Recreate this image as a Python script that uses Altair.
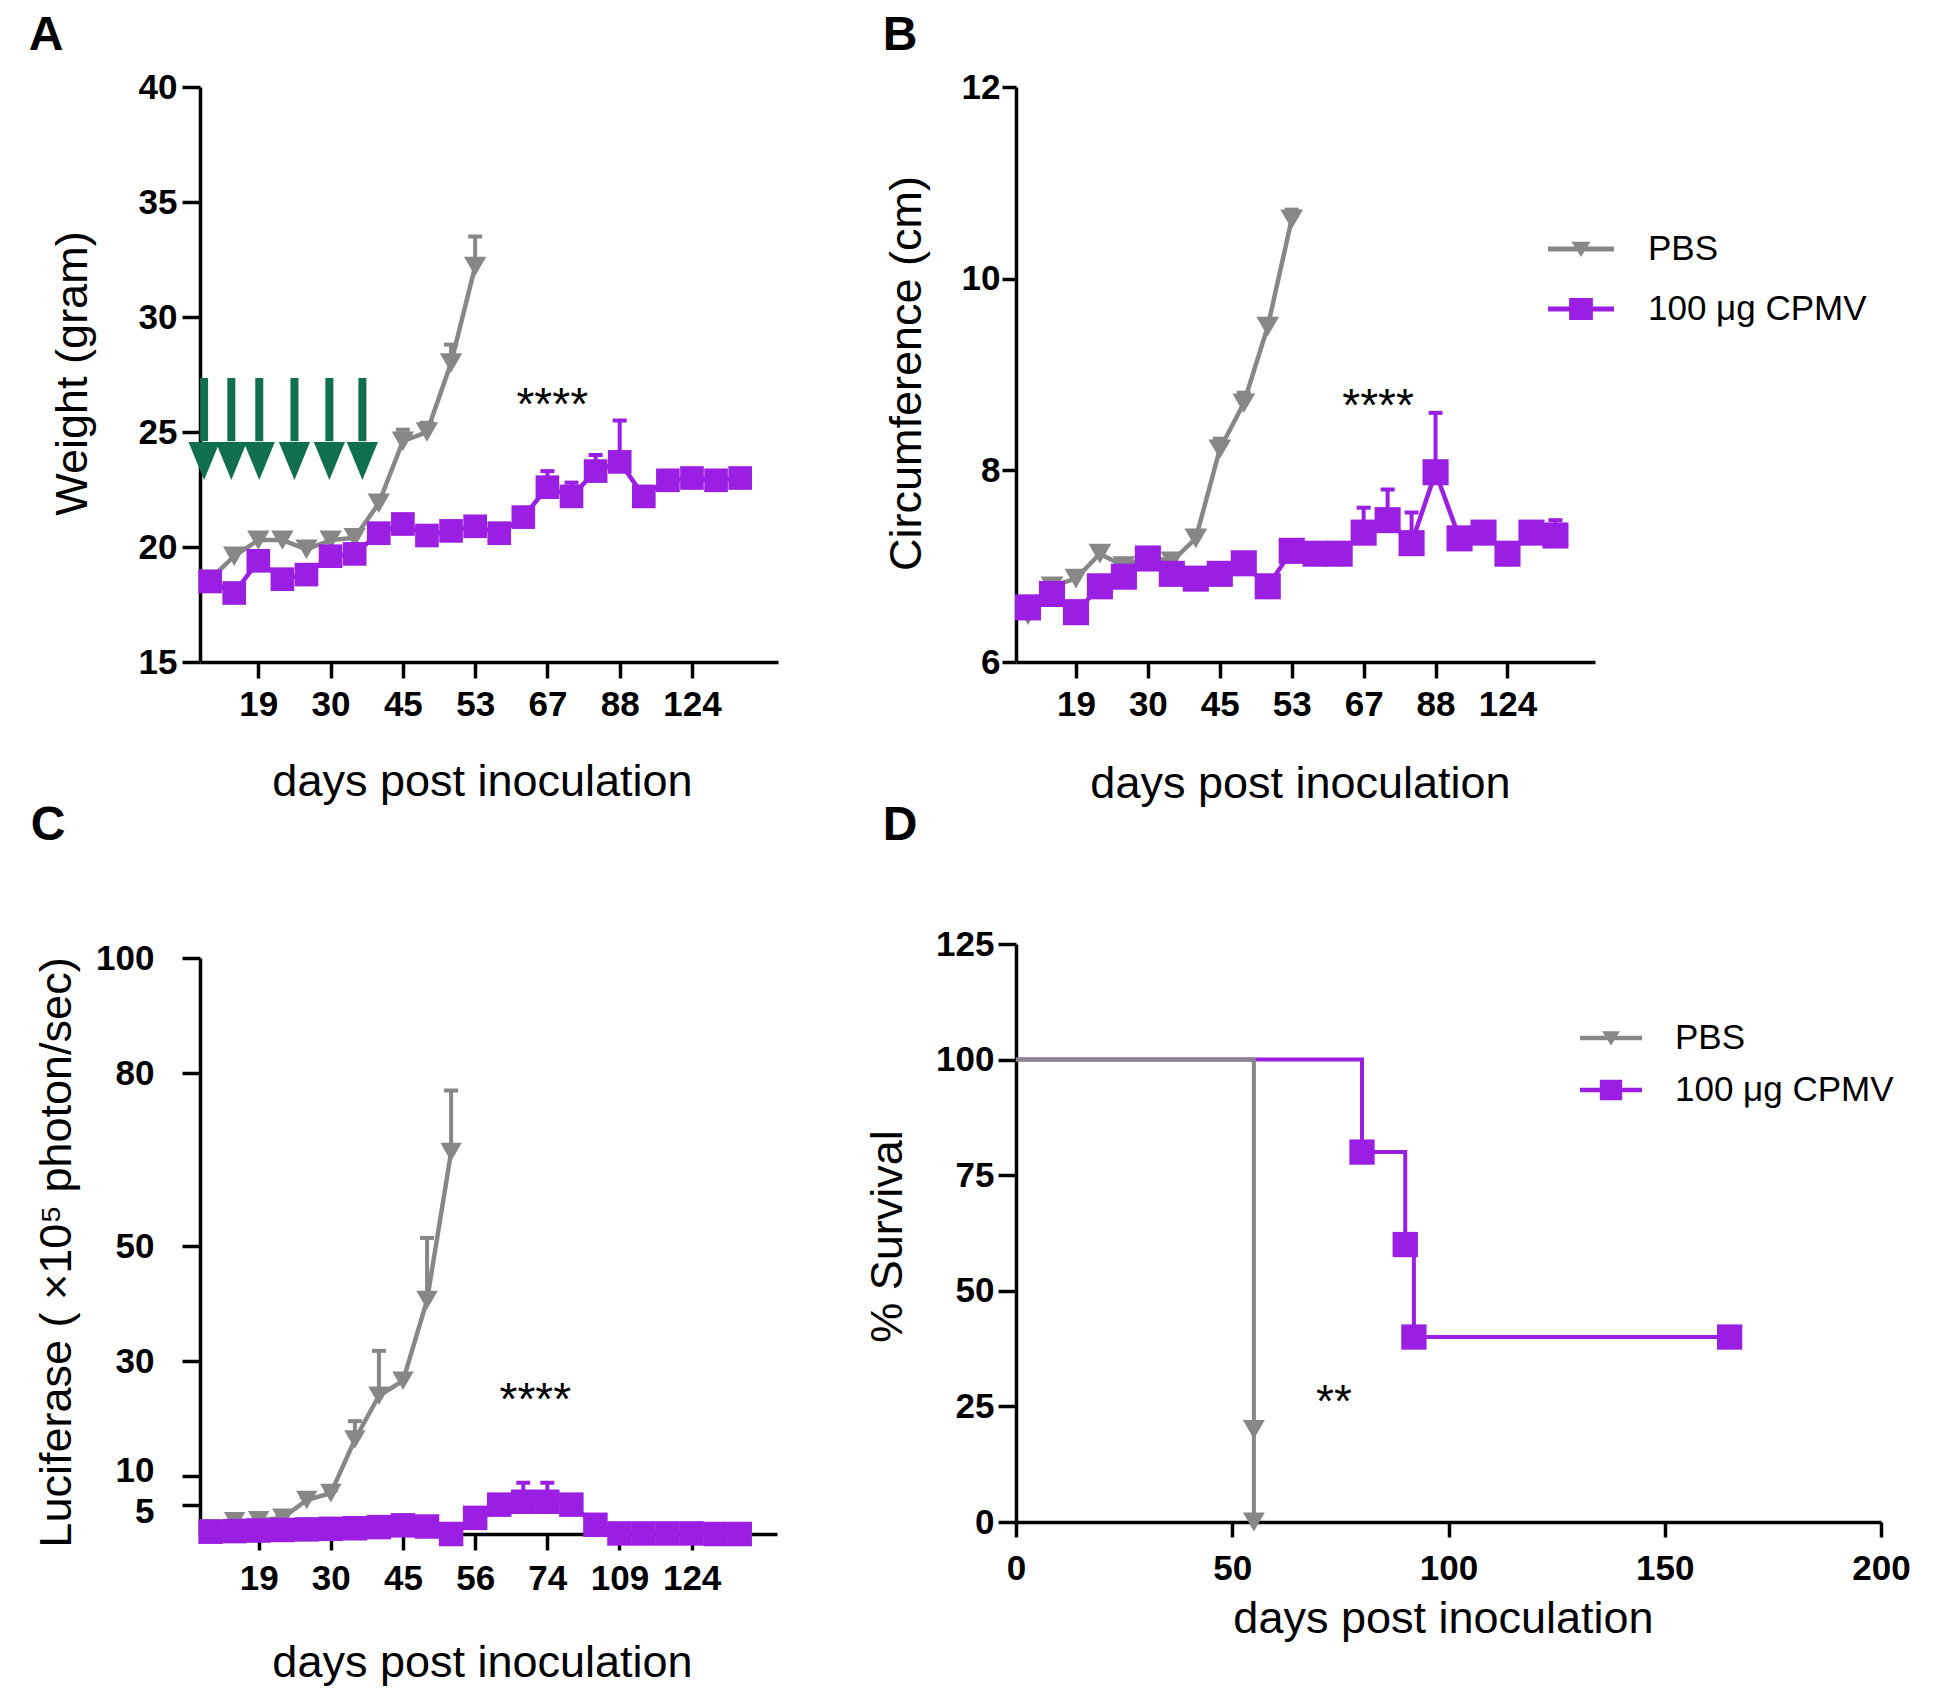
import altair as alt
import pandas as pd

FONT = "Liberation Sans"
GRAY = "#878787"
PURPLE = "#9b1ee3"
GREEN = "#10704e"
W, H = 1934, 1687

series_names = ["PBS", "100 μg CPMV"]
panel_letters = ["A", "B", "C", "D"]

# ---------------- Panel A : weight ----------------
a_tick_pos = [2, 5, 8, 11, 14, 17, 20]
a_tick_lab = ["19", "30", "45", "53", "67", "88", "124"]
a_pbs_mean = [18.6, 19.6, 20.3, 20.3, 19.9, 20.3, 20.4, 21.9, 24.6, 25.0, 28.0, 32.2]
a_pbs_sem = [0.3, 0.3, 0.3, 0.3, 0.3, 0.3, 0.3, 0.3, 0.5, 0.4, 0.8, 1.3]
a_cpmv_mean = [18.5, 18.0, 19.4, 18.6, 18.8, 19.6, 19.7, 20.6, 21.0, 20.5, 20.7, 20.9,
               20.6, 21.3, 22.6, 22.2, 23.3, 23.7, 22.2, 22.9, 23.0, 22.9, 23.0]
a_cpmv_sem = [0.2, 0.2, 0.3, 0.2, 0.3, 0.3, 0.3, 0.3, 0.3, 0.3, 0.3, 0.3,
              0.3, 0.4, 0.7, 0.6, 0.7, 1.8, 0.3, 0.3, 0.3, 0.3, 0.3]
a_arrow_pos = [-0.25, 0.88, 2.04, 3.5, 4.95, 6.32]
a_arrow_top = 27.35
a_arrow_neck = 24.6
a_arrow_head = 23.74
a_star = (14.2, 26.7)

# ---------------- Panel B : circumference ----------------
b_tick_pos = [2, 5, 8, 11, 14, 17, 20]
b_tick_lab = ["19", "30", "45", "53", "67", "88", "124"]
b_pbs_mean = [6.49, 6.79, 6.87, 7.13, 7.0, 7.1, 7.05, 7.29, 8.22, 8.70, 9.5, 10.62]
b_pbs_sem = [0.05, 0.05, 0.05, 0.05, 0.05, 0.05, 0.05, 0.05, 0.11, 0.11, 0.08, 0.1]
b_cpmv_mean = [6.57, 6.71, 6.52, 6.79, 6.89, 7.08, 6.92, 6.87, 6.92, 7.03, 6.79, 7.16,
               7.13, 7.13, 7.35, 7.48, 7.24, 7.98, 7.29, 7.35, 7.13, 7.35, 7.32]
b_cpmv_sem = [0.04, 0.04, 0.04, 0.04, 0.04, 0.04, 0.04, 0.04, 0.04, 0.04, 0.04, 0.04,
              0.04, 0.04, 0.26, 0.32, 0.32, 0.62, 0.04, 0.04, 0.04, 0.06, 0.16]
b_star = (14.6, 8.8)

# ---------------- Panel C : luciferase ----------------
c_tick_pos = [2, 5, 8, 11, 14, 17, 20]
c_tick_lab = ["19", "30", "45", "56", "74", "109", "124"]
c_pbs_mean = [1.0, 2.2, 2.4, 2.8, 5.9, 7.1, 16.4, 24.0, 26.6, 40.6, 66.3]
c_pbs_sem = [0.3, 0.3, 0.3, 0.4, 0.5, 0.5, 3.2, 7.8, 1.0, 10.8, 10.7]
c_cpmv_mean = [0.4, 0.5, 0.6, 0.7, 0.8, 0.9, 1.0, 1.2, 1.5, 1.3, 0.0, 2.8,
               5.1, 5.6, 5.6, 5.1, 1.6, 0.1, 0.1, 0.1, 0.1, 0.0, 0.0]
c_cpmv_sem = [0.2, 0.2, 0.2, 0.2, 0.2, 0.2, 0.2, 0.2, 0.2, 0.2, 0.2, 0.3,
              1.5, 3.3, 3.3, 1.3, 0.3, 0.2, 0.2, 0.2, 0.2, 0.2, 0.2]
c_star = (13.5, 25.3)

# ---------------- Panel D : survival ----------------
d_pbs_day = [0, 55, 55]
d_pbs_surv = [100, 20, 0]
d_cpmv_day = [0, 80, 90, 92, 165]
d_cpmv_surv = [100, 80, 60, 40, 40]
d_star = (73.5, 28.5)

# ---------------- helpers ----------------
AX = dict(grid=False, domainColor="black", domainWidth=3.5, tickColor="black", tickWidth=3.5,
          labelFont=FONT, labelFontSize=35, labelFontWeight="bold", labelColor="black",
          titleFont=FONT, titleFontSize=45, titleFontWeight="normal", titleColor="black",
          labelOverlap=False, labelFlush=False, titleBaseline="middle")


def sc(dom, rng):
    return alt.Scale(domain=dom, range=rng, nice=False, zero=False)


def lab_expr(pos, lab):
    labs = ",".join("'%s'" % l for l in lab)
    ps = ",".join(str(p) for p in pos)
    return "[%s][indexof([%s], datum.value)]" % (labs, ps)


def sdf(mean, sem):
    return pd.DataFrame({"i": list(range(len(mean))), "m": mean,
                         "top": [m + s for m, s in zip(mean, sem)]})


class Panel:
    def __init__(self, xs, ys, xaxis, yaxis):
        self.xs, self.ys, self.xaxis, self.yaxis = xs, ys, xaxis, yaxis

    def X(self, f):
        return alt.X(f, type="quantitative", scale=self.xs, axis=self.xaxis)

    def Y(self, f):
        return alt.Y(f, type="quantitative", scale=self.ys, axis=self.yaxis)


def series(P, df, color, shape, size):
    base = alt.Chart(df)
    err = base.mark_rule(color=color, strokeWidth=4).encode(x=P.X("i"), y=P.Y("m"), y2="top:Q")
    cap = base.mark_tick(color=color, orient="horizontal", size=14, thickness=4, opacity=1).encode(
        x=P.X("i"), y=P.Y("top"))
    line = base.mark_line(color=color, strokeWidth=4.5).encode(x=P.X("i"), y=P.Y("m"))
    pts = base.mark_point(shape=shape, filled=True, size=size, color=color, opacity=1).encode(
        x=P.X("i"), y=P.Y("m"))
    return [err, cap, line, pts]


def star(P, pos, text, xf="i", yf="m"):
    df = pd.DataFrame({xf: [pos[0]], yf: [pos[1]], "t": [text]})
    return alt.Chart(df).mark_text(font=FONT, fontSize=46, color="black", align="center",
                                   baseline="alphabetic", dy=27).encode(
        x=P.X(xf), y=P.Y(yf), text="t:N")


TRI_PATH = "M-1,-0.075L1,-0.075L1,0.075L-1,0.075Z M-0.29,-0.22L0.29,-0.22L0,0.24Z"
SQ_PATH = "M-1,-0.075L1,-0.075L1,0.075L-1,0.075Z M-0.36,-0.33L0.36,-0.33L0.36,0.33L-0.36,0.33Z"


def legend_layer(P, lx, ly, sym, offset, rowpad, xf="i", yf="m"):
    df = pd.DataFrame({"g": series_names, xf: [100000, 100000], yf: [0, 0]})
    leg = alt.Legend(orient="none", legendX=lx, legendY=ly, title=None, symbolSize=sym * sym,
                     symbolStrokeWidth=0, labelFont=FONT, labelFontSize=35, labelColor="black",
                     labelOffset=offset, rowPadding=rowpad, padding=0, symbolOpacity=1,
                     labelLimit=600)
    return alt.Chart(df).mark_point(filled=True, opacity=1, clip=True, size=10).encode(
        x=P.X(xf), y=P.Y(yf),
        color=alt.Color("g:N", scale=alt.Scale(domain=series_names, range=[GRAY, PURPLE]), legend=leg),
        shape=alt.Shape("g:N", scale=alt.Scale(domain=series_names, range=[TRI_PATH, SQ_PATH]), legend=leg))


# ---------------- Panel A ----------------
PA = Panel(
    sc([-0.42, 23.57], [192, 770]), sc([15, 40], [654, 79]),
    alt.Axis(orient="bottom", offset=654 - H, values=a_tick_pos, labelExpr=lab_expr(a_tick_pos, a_tick_lab),
             title="days post inoculation", titleX=474, titleY=119, tickSize=16, labelPadding=9, **AX),
    alt.Axis(orient="left", offset=-192, values=[15, 20, 25, 30, 35, 40], title="Weight (gram)",
             titleX=-128, titleY=365, tickSize=18, labelPadding=5, **AX))
arr_df = pd.DataFrame({"i": a_arrow_pos, "t": [a_arrow_top] * len(a_arrow_pos),
                       "n": [a_arrow_neck] * len(a_arrow_pos), "h": [a_arrow_head] * len(a_arrow_pos)})
arr_shaft = alt.Chart(arr_df).mark_rule(color=GREEN, strokeWidth=8).encode(
    x=PA.X("i"), y=PA.Y("t"), y2="n:Q")
arr_head = alt.Chart(arr_df).mark_point(shape="M-0.82,-1L0.82,-1L0,1Z", filled=True, size=1444,
                                        color=GREEN, opacity=1).encode(x=PA.X("i"), y=PA.Y("h"))
panelA = alt.layer(
    *series(PA, sdf(a_pbs_mean, a_pbs_sem), GRAY, "triangle-down", 500),
    *series(PA, sdf(a_cpmv_mean, a_cpmv_sem), PURPLE, "square", 560),
    arr_shaft, arr_head,
    star(PA, a_star, "****"),
)

# ---------------- Panel B ----------------
PB = Panel(
    sc([-0.5, 23.65], [1008, 1587]), sc([6, 12], [654, 79]),
    alt.Axis(orient="bottom", offset=654 - H, values=b_tick_pos, labelExpr=lab_expr(b_tick_pos, b_tick_lab),
             title="days post inoculation", titleX=1292, titleY=121, tickSize=16, labelPadding=9, **AX),
    alt.Axis(orient="left", offset=-1008, values=[6, 8, 10, 12], title="Circumference (cm)",
             titleX=-110, titleY=365, tickSize=14, labelPadding=2, **AX))
panelB = alt.layer(
    *series(PB, sdf(b_pbs_mean, b_pbs_sem), GRAY, "triangle-down", 520),
    *series(PB, sdf(b_cpmv_mean, b_cpmv_sem), PURPLE, "square", 680),
    star(PB, b_star, "****"),
    legend_layer(PB, 1540, 208, 66, 34, 9),
)

# ---------------- Panel C ----------------
c_label_nudge = {"condition": [{"test": "datum.value === 10", "value": -6},
                               {"test": "datum.value === 5", "value": 6}], "value": 0}
PC = Panel(
    sc([-0.44, 23.55], [192, 769]), sc([0, 100], [1526, 950]),
    alt.Axis(orient="bottom", offset=1526 - H, values=c_tick_pos, labelExpr=lab_expr(c_tick_pos, c_tick_lab),
             title="days post inoculation", titleX=474, titleY=128, tickSize=16, labelPadding=11, **AX),
    alt.Axis(orient="left", offset=-192, values=[5, 10, 30, 50, 80, 100],
             title="Luciferase ( ×10⁵ photon/sec)", titleX=-144, titleY=1244, tickSize=18,
             labelPadding=28, labelOffset=c_label_nudge, **AX))
panelC = alt.layer(
    *series(PC, sdf(c_pbs_mean, c_pbs_sem), GRAY, "triangle-down", 460),
    *series(PC, sdf(c_cpmv_mean, c_cpmv_sem), PURPLE, "square", 600),
    star(PC, c_star, "****"),
)

# ---------------- Panel D ----------------
PD = Panel(
    sc([0, 200], [1008, 1873]), sc([0, 125], [1514, 936]),
    alt.Axis(orient="bottom", offset=1514 - H, values=[0, 50, 100, 150, 200], title="days post inoculation",
             titleX=1435, titleY=96, tickSize=15, labelPadding=14, **AX),
    alt.Axis(orient="left", offset=-1008, values=[0, 25, 50, 75, 100, 125], title="% Survival",
             titleX=-129, titleY=1228, tickSize=18, labelPadding=4, **AX))
d_pbs = pd.DataFrame({"k": list(range(len(d_pbs_day))), "d": d_pbs_day, "s": d_pbs_surv})
d_cpmv = pd.DataFrame({"k": list(range(len(d_cpmv_day))), "d": d_cpmv_day, "s": d_cpmv_surv})


def km_line(df, color):
    return alt.Chart(df).mark_line(interpolate="step-after", color=color, strokeWidth=4).encode(
        x=PD.X("d"), y=PD.Y("s"), order="k:Q")


def km_pts(df, color, shape, size):
    return alt.Chart(df).transform_filter("datum.k > 0").mark_point(
        shape=shape, filled=True, size=size, color=color, opacity=1).encode(x=PD.X("d"), y=PD.Y("s"))


panelD = alt.layer(
    km_line(d_cpmv, PURPLE),
    km_line(d_pbs, GRAY),
    km_pts(d_cpmv, PURPLE, "square", 640),
    km_pts(d_pbs, GRAY, "triangle-down", 480),
    star(PD, d_star, "**", xf="d", yf="s"),
    legend_layer(PD, 1572, 999, 62, 33, 3, xf="d", yf="s"),
)

# ---------------- panel letters ----------------
letter_xy = [(38, 28), (892, 28), (40, 818), (892, 818)]
letters = [
    alt.Chart(pd.DataFrame({"t": [lt]})).mark_text(
        font=FONT, fontSize=48, fontWeight="bold", color="black", align="center", baseline="middle"
    ).encode(text="t:N", x=alt.value(px), y=alt.value(py))
    for lt, (px, py) in zip(panel_letters, letter_xy)
]

chart = alt.layer(panelA, panelB, panelC, panelD, *letters).resolve_scale(
    x="independent", y="independent", color="independent", shape="independent"
).properties(
    width=W, height=H, autosize=alt.AutoSizeParams(type="none"), padding=0,
    background="white"
).configure_view(strokeWidth=0)

chart.save("out.html", embed_options={"renderer": "svg", "actions": False})
